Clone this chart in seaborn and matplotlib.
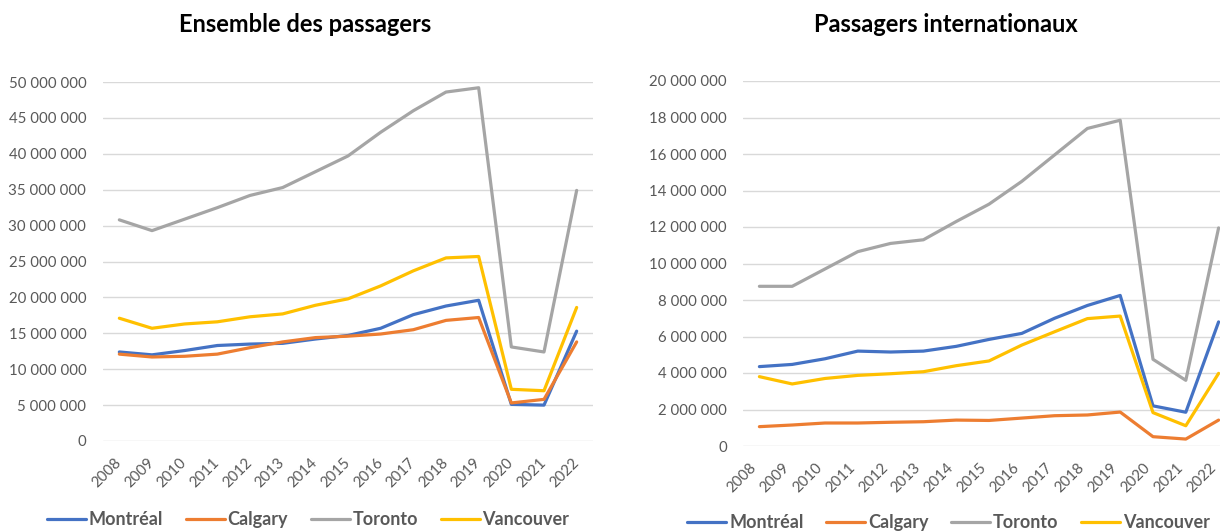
import numpy as np
import pandas as pd
import seaborn as sns
import matplotlib.pyplot as plt
import matplotlib.transforms as mtransforms

years = [2008, 2009, 2010, 2011, 2012, 2013, 2014, 2015, 2016, 2017, 2018, 2019, 2020, 2021, 2022]
cities = ["Montréal", "Calgary", "Toronto", "Vancouver"]
colors = ["#4472C4", "#ED7D31", "#A5A5A5", "#FFC000"]

# total passengers (millions)
total_montreal = [12.4, 12.0, 12.6, 13.3, 13.5, 13.6, 14.2, 14.7, 15.7, 17.6, 18.8, 19.6, 5.1, 5.0, 15.3]
total_calgary = [12.1, 11.7, 11.8, 12.1, 13.0, 13.8, 14.4, 14.6, 14.9, 15.5, 16.8, 17.2, 5.3, 5.8, 13.8]
total_toronto = [30.8, 29.3, 30.9, 32.5, 34.2, 35.3, 37.5, 39.7, 43.0, 46.0, 48.6, 49.2, 13.1, 12.4, 34.9]
total_vancouver = [17.1, 15.7, 16.3, 16.6, 17.3, 17.7, 18.9, 19.8, 21.6, 23.7, 25.5, 25.7, 7.2, 7.0, 18.6]

# international passengers (millions)
intl_montreal = [4.35, 4.47, 4.78, 5.20, 5.15, 5.20, 5.46, 5.84, 6.17, 7.00, 7.70, 8.25, 2.20, 1.85, 6.80]
intl_calgary = [1.06, 1.15, 1.26, 1.26, 1.30, 1.33, 1.42, 1.40, 1.53, 1.66, 1.70, 1.86, 0.51, 0.38, 1.42]
intl_toronto = [8.75, 8.75, 9.70, 10.65, 11.10, 11.30, 12.30, 13.25, 14.50, 15.95, 17.40, 17.85, 4.75, 3.60, 11.95]
intl_vancouver = [3.80, 3.40, 3.70, 3.87, 3.96, 4.07, 4.40, 4.66, 5.53, 6.26, 6.98, 7.12, 1.83, 1.11, 3.98]


def long_frame(series):
    rows = []
    for city, vals in zip(cities, series):
        for i, v in enumerate(vals):
            rows.append({"pos": i, "city": city, "value": v * 1e6})
    return pd.DataFrame(rows)


def fmt(v, _):
    return f"{int(round(v)):,}".replace(",", " ")


sns.set_theme(style="white")
plt.rcParams['font.family'] = ['Lato', 'DejaVu Sans']

W, H = 1220, 531
fig = plt.figure(figsize=(12.2, 5.31), dpi=100)
ax1 = fig.add_axes([103 / W, 1 - 441 / H, 490 / W, 359 / H])
ax2 = fig.add_axes([743 / W, 1 - 446 / H, 492 / W, 365 / H])

df_total = long_frame([total_montreal, total_calgary, total_toronto, total_vancouver])
df_intl = long_frame([intl_montreal, intl_calgary, intl_toronto, intl_vancouver])

setups = [
    (ax1, df_total, 50e6, 5e6, 12, 0.2525, 0.021, 0),
    (ax2, df_intl, 20e6, 2e6, 11.5, 0.7775, 0.016, -5),
]
for ax, df, ymax, step, ypad, lx, ly, xshift in setups:
    sns.lineplot(data=df, x="pos", y="value", hue="city", hue_order=cities,
                 palette=colors, linewidth=2.3, ax=ax, legend=True)
    ax.set_xlim(-0.5, len(years) - 0.5)
    ax.set_ylim(0, ymax)
    ax.set_yticks(np.arange(0, ymax + 1, step))
    ax.yaxis.set_major_formatter(plt.FuncFormatter(fmt))
    ax.set_xticks(range(len(years)))
    ax.set_xticklabels([str(y) for y in years], rotation=45, ha="right",
                       va="center", rotation_mode="anchor")
    ax.grid(axis="y", color="#D9D9D9", linewidth=1.0)
    ax.set_axisbelow(True)
    for s in ax.spines.values():
        s.set_visible(False)
    ax.tick_params(axis="y", length=0, pad=ypad, labelsize=10.8, labelcolor="#595959")
    ax.tick_params(axis="x", length=0, pad=14, labelsize=10.8, labelcolor="#595959")
    # nudge labels after pad is set, so the shift is not reset
    if xshift:
        off = mtransforms.ScaledTranslation(xshift / 100, 0, fig.dpi_scale_trans)
        for tick in ax.xaxis.get_major_ticks():
            tick.label1.set_transform(tick.label1.get_transform() + off)
    ax.set_xlabel("")
    ax.set_ylabel("")
    leg = ax.legend(loc="center", bbox_to_anchor=(lx, ly), bbox_transform=fig.transFigure,
                    ncol=4, frameon=False, handlelength=2.15, handletextpad=0.15,
                    columnspacing=1.27, prop={"weight": "bold", "size": 13})
    for t in leg.get_texts():
        t.set_color("#595959")
    for h in leg.get_lines():
        h.set_linewidth(2.3)

fig.text(305 / W, 1 - 25 / H, "Ensemble des passagers", ha="center", va="center",
         fontsize=17, fontweight="bold", color="black")
fig.text(946 / W, 1 - 25 / H, "Passagers internationaux", ha="center", va="center",
         fontsize=17, fontweight="bold", color="black")

fig.savefig("out.png", dpi=100)
